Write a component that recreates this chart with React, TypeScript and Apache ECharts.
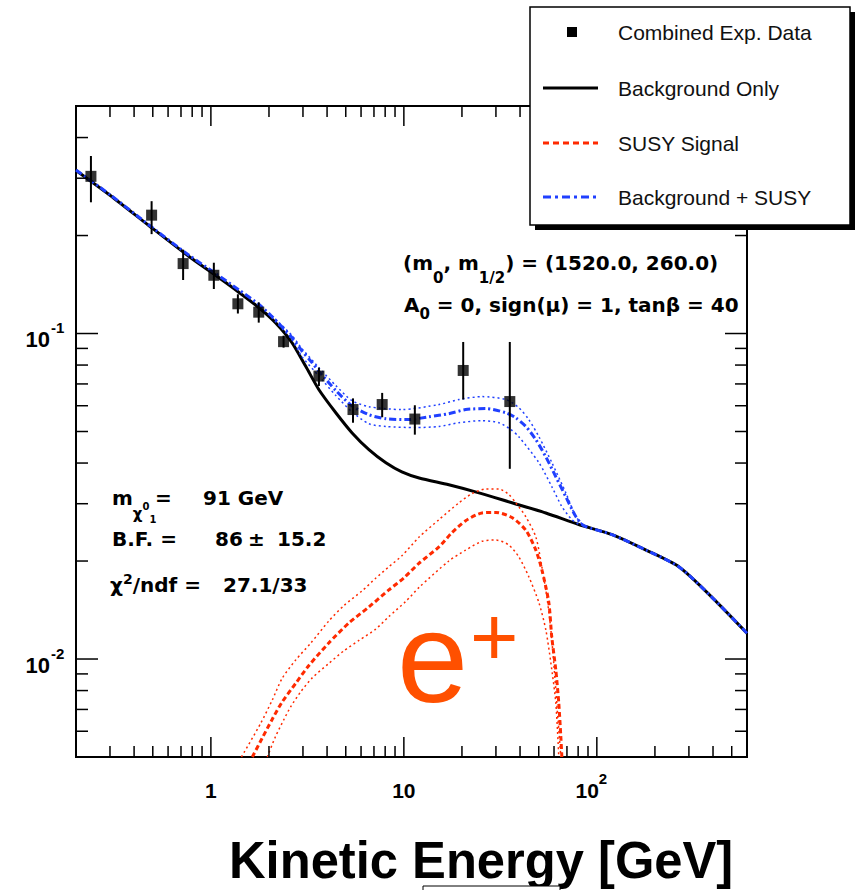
import React, { useEffect, useRef } from 'react';
import * as echarts from 'echarts';

// ---- Data ----
const dataE = [0.239, 0.493, 0.718, 1.036, 1.38, 1.77, 2.38, 3.63, 5.45, 7.72, 11.4, 20.3, 35.4];
const dataF = [0.304, 0.231, 0.164, 0.151, 0.1234, 0.1163, 0.0944, 0.074, 0.0584, 0.0605, 0.0546, 0.077, 0.0618];
const dataLo = [0.253, 0.202, 0.146, 0.137, 0.1152, 0.108, 0.0905, 0.069, 0.0532, 0.0553, 0.0489, 0.0627, 0.0384];
const dataHi = [0.351, 0.255, 0.181, 0.165, 0.132, 0.1246, 0.0985, 0.0786, 0.0632, 0.0657, 0.0602, 0.0942, 0.0942];

const bgE = [0.2, 0.3, 0.48, 0.77, 1.04, 1.4, 1.77, 2.16, 2.63, 3.1, 3.63, 4.44, 5.38, 6.59, 8.07, 9.76, 12.0, 17.1, 24.5, 36.3, 54.4, 80.6, 120, 180, 266, 394, 600];
const bgF = [0.317, 0.266, 0.214, 0.1725, 0.152, 0.1337, 0.1202, 0.108, 0.0938, 0.0793, 0.0672, 0.0571, 0.0496, 0.044, 0.0401, 0.0376, 0.036, 0.0343, 0.0324, 0.0302, 0.0281, 0.0259, 0.0241, 0.0216, 0.0192, 0.0155, 0.012];

const sumE = [0.2, 0.3, 0.48, 0.77, 1.04, 1.4, 1.77, 2.07, 2.63, 2.96, 3.34, 3.63, 4.44, 5.38, 6.59, 8.07, 10.6, 13.5, 17.1, 20.9, 26.6, 33.8, 38.0, 42.9, 48.3, 54.4, 61.3, 69.1, 77.8, 85.6, 120, 180, 266, 394, 600];
const sumF = [0.318, 0.267, 0.215, 0.174, 0.154, 0.136, 0.123, 0.1128, 0.0972, 0.0885, 0.0815, 0.0765, 0.0668, 0.06, 0.0563, 0.0547, 0.0544, 0.0555, 0.0567, 0.0584, 0.0588, 0.0571, 0.0551, 0.0518, 0.0472, 0.0418, 0.0363, 0.0315, 0.0274, 0.0257, 0.0241, 0.0216, 0.0192, 0.0155, 0.012];

const sumUpE = [2.07, 2.63, 2.96, 3.63, 4.44, 5.38, 6.59, 9.76, 15.2, 19.3, 25.4, 33.8, 39.4, 44.4, 50.1, 58.5, 69.1, 77.8, 85.6];
const sumUpF = [0.1135, 0.0986, 0.09, 0.0785, 0.0692, 0.0622, 0.0596, 0.0584, 0.0605, 0.0627, 0.064, 0.0627, 0.0592, 0.0544, 0.0482, 0.0401, 0.0324, 0.0274, 0.0257];
const sumLoE = [2.07, 2.63, 2.96, 3.63, 4.44, 5.38, 6.59, 8.07, 11.5, 15.2, 19.3, 25.4, 31.1, 35.8, 39.4, 50.1, 58.5, 65.9, 74.2, 80.7];
const sumLoF = [0.112, 0.0958, 0.085, 0.074, 0.0645, 0.0575, 0.0528, 0.0518, 0.0514, 0.0518, 0.0532, 0.054, 0.0532, 0.0507, 0.0482, 0.0401, 0.0338, 0.0294, 0.0268, 0.0259];

const susyE = [1.64, 1.84, 2.07, 2.33, 2.76, 3.22, 4.08, 5.19, 6.59, 8.36, 10.0, 12.0, 15.2, 17.7, 20.9, 25.4, 30.0, 36.3, 42.8, 48.3, 51.9, 56.4, 58.4, 61.3, 63.5, 65.1, 65.9];
const susyF = [0.005, 0.0057, 0.0065, 0.00735, 0.00844, 0.00955, 0.0112, 0.0129, 0.01445, 0.0163, 0.01775, 0.0197, 0.0221, 0.0244, 0.0266, 0.0281, 0.0282, 0.0272, 0.0249, 0.0216, 0.0188, 0.0149, 0.0117, 0.00925, 0.00732, 0.00575, 0.005];
const susyUpE = [1.44, 1.81, 2.08, 2.34, 2.75, 3.29, 4.09, 4.89, 6.08, 7.14, 8.36, 9.8, 12.0, 15.2, 19.3, 22.5, 26.6, 31.1, 35.0, 38.0, 42.8, 48.3, 51.9, 55.1, 57.8, 59.8, 62.0, 65.1];
const susyUpF = [0.005, 0.00634, 0.00748, 0.00872, 0.00993, 0.01118, 0.0131, 0.0146, 0.0162, 0.0177, 0.0192, 0.0208, 0.0237, 0.0268, 0.0302, 0.0322, 0.0333, 0.0333, 0.032, 0.0302, 0.0274, 0.0237, 0.0192, 0.0155, 0.0123, 0.00972, 0.00732, 0.005];
const susyLoE = [1.96, 2.16, 2.39, 2.59, 2.92, 3.35, 4.09, 4.89, 5.85, 7.14, 8.36, 10.2, 12.0, 17.1, 20.9, 25.4, 30.0, 35.0, 39.4, 44.4, 50.1, 54.4, 57.8, 61.3, 63.5];
const susyLoF = [0.005, 0.00577, 0.00652, 0.00713, 0.00793, 0.00875, 0.0097, 0.0106, 0.0114, 0.01235, 0.0135, 0.0150, 0.0166, 0.0200, 0.0216, 0.0230, 0.0232, 0.0224, 0.0206, 0.0179, 0.0149, 0.0123, 0.00972, 0.00732, 0.005];

const xMajorTicks = [1, 10, 100];
const xMinorTicks = [0.3, 0.4, 0.5, 0.6, 0.7, 0.8, 0.9, 2, 3, 4, 5, 6, 7, 8, 9, 20, 30, 40, 50, 60, 70, 80, 90, 200, 300, 400, 500];
const yMajorTicks = [0.01, 0.1];
const yMinorTicks = [0.006, 0.007, 0.008, 0.009, 0.02, 0.03, 0.04, 0.05, 0.06, 0.07, 0.08, 0.09, 0.2, 0.3, 0.4];

const xLabelValues = [1, 10, 100];
const xLabelBase = ['1', '10', '10'];
const xLabelSup = ['', '', '2'];
const yLabelValues = [0.1, 0.01];
const yLabelBase = ['10', '10'];
const yLabelSup = ['-1', '-2'];

const legendLabels = ['Combined Exp. Data', 'Background Only', 'SUSY Signal', 'Background + SUSY'];

const RED = '#ff2a00';
const BLUE = '#2040ff';
const ORANGE = '#ff5000';
const SANS = '"Liberation Sans", Arial, Helvetica, sans-serif';
const DJ = '"DejaVu Sans", sans-serif';

const pairs = (xs: number[], ys: number[]) => xs.map((x, i) => [x, ys[i]]);

const xTickRender = (len: number) => (params: any, api: any) => {
  const cs = params.coordSys;
  const p = api.coord([api.value(0), api.value(1)]);
  const x = p[0];
  const b = cs.y + cs.height;
  const st = { stroke: '#000', lineWidth: 1.5 };
  return {
    type: 'group',
    children: [
      { type: 'line', shape: { x1: x, y1: b, x2: x, y2: b - len }, style: st },
      { type: 'line', shape: { x1: x, y1: cs.y, x2: x, y2: cs.y + len }, style: st },
    ],
  };
};

const yTickRender = (len: number) => (params: any, api: any) => {
  const cs = params.coordSys;
  const p = api.coord([api.value(0), api.value(1)]);
  const y = p[1];
  const r = cs.x + cs.width;
  const st = { stroke: '#000', lineWidth: 1.5 };
  return {
    type: 'group',
    children: [
      { type: 'line', shape: { x1: cs.x, y1: y, x2: cs.x + len, y2: y }, style: st },
      { type: 'line', shape: { x1: r, y1: y, x2: r - len, y2: y }, style: st },
    ],
  };
};

const txt = (text: string, size: number, align: string, extra: any = {}) => ({
  text,
  fill: '#000',
  fontSize: size,
  fontWeight: 'bold',
  fontFamily: SANS,
  align,
  textAlign: align,
  verticalAlign: 'middle',
  textVerticalAlign: 'middle',
  ...extra,
});

export default function App() {
  const ref = useRef<HTMLDivElement>(null);

  useEffect(() => {
    document.body.style.margin = '0';
    if (!ref.current) return;
    const chart = echarts.init(ref.current, undefined, { renderer: 'svg' });

    const lineBase = { type: 'line', showSymbol: false, symbol: 'none', smooth: 0.25, silent: true };

    const richSub = {
      s: { fontSize: 15, fontWeight: 'bold', fontFamily: DJ, padding: [29, 0, 0, 0] },
      s2: { fontSize: 15, fontWeight: 'bold', fontFamily: DJ, padding: [17, 0, 0, 0] },
      c: { fontSize: 15, fontWeight: 'bold', fontFamily: DJ, padding: [32, 0, 0, 0] },
      t0: { fontSize: 10, fontWeight: 'bold', fontFamily: DJ, padding: [16, 0, 0, 0] },
      t1: { fontSize: 10, fontWeight: 'bold', fontFamily: DJ, padding: [42, 0, 0, 0] },
      p: { fontSize: 14, fontWeight: 'bold', fontFamily: DJ, padding: [0, 0, 12, 0] },
    };
    const annot = (x: number, y: number, text: string) => ({
      type: 'text',
      x,
      y,
      z: 50,
      style: {
        text,
        fill: '#000',
        fontSize: 20,
        fontWeight: 'bold',
        fontFamily: DJ,
        align: 'left',
        textAlign: 'left',
        verticalAlign: 'middle',
        textVerticalAlign: 'middle',
        rich: richSub,
      },
    });

    const legendY = [32, 88, 143, 197];
    const legendText = legendLabels.map((t, i) => ({
      type: 'text',
      x: 618,
      y: legendY[i],
      z: 102,
      style: {
        text: t,
        fill: '#111',
        fontSize: 21,
        fontFamily: SANS,
        align: 'left',
        textAlign: 'left',
        verticalAlign: 'middle',
        textVerticalAlign: 'middle',
      },
    }));

    const option: any = {
      animation: false,
      backgroundColor: '#fff',
      grid: {
        left: 76,
        top: 106,
        width: 671,
        height: 651,
        show: true,
        borderColor: '#000',
        borderWidth: 2,
        backgroundColor: 'transparent',
      },
      xAxis: {
        type: 'log',
        logBase: 10,
        min: 0.2,
        max: 600,
        axisLine: { show: false },
        axisTick: { show: false },
        axisLabel: { show: false },
        splitLine: { show: false },
      },
      yAxis: {
        type: 'log',
        logBase: 10,
        min: 0.005,
        max: 0.5,
        axisLine: { show: false },
        axisTick: { show: false },
        axisLabel: { show: false },
        splitLine: { show: false },
      },
      series: [
        { ...lineBase, name: 'Background Only', data: pairs(bgE, bgF), lineStyle: { color: '#000', width: 3 }, z: 2 },
        { ...lineBase, name: 'SUSY upper', data: pairs(susyUpE, susyUpF), lineStyle: { color: RED, width: 1.5, type: [2, 3] }, z: 3 },
        { ...lineBase, name: 'SUSY lower', data: pairs(susyLoE, susyLoF), lineStyle: { color: RED, width: 1.5, type: [2, 3] }, z: 3 },
        { ...lineBase, name: 'SUSY Signal', data: pairs(susyE, susyF), lineStyle: { color: RED, width: 3, type: [5, 3] }, z: 4 },
        { ...lineBase, name: 'Sum upper', data: pairs(sumUpE, sumUpF), lineStyle: { color: BLUE, width: 1.5, type: [2, 3] }, z: 3 },
        { ...lineBase, name: 'Sum lower', data: pairs(sumLoE, sumLoF), lineStyle: { color: BLUE, width: 1.5, type: [2, 3] }, z: 3 },
        { ...lineBase, name: 'Background + SUSY', data: pairs(sumE, sumF), lineStyle: { color: BLUE, width: 3, type: [7, 3, 2, 3] }, z: 4 },
        {
          type: 'custom',
          name: 'errors',
          silent: true,
          data: dataE.map((e, i) => [e, dataLo[i], dataHi[i]]),
          encode: { x: 0, y: [1, 2] },
          renderItem: (params: any, api: any) => {
            const a = api.coord([api.value(0), api.value(1)]);
            const b = api.coord([api.value(0), api.value(2)]);
            return {
              type: 'line',
              shape: { x1: a[0], y1: a[1], x2: b[0], y2: b[1] },
              style: { stroke: '#000', lineWidth: 2 },
            };
          },
          z: 9,
        },
        {
          type: 'scatter',
          name: 'Combined Exp. Data',
          data: pairs(dataE, dataF),
          symbol: 'rect',
          symbolSize: 11,
          itemStyle: { color: '#000' },
          silent: true,
          z: 10,
        },
        { type: 'custom', silent: true, data: xMajorTicks.map((v) => [v, 0.1]), renderItem: xTickRender(20), z: 11 },
        { type: 'custom', silent: true, data: xMinorTicks.map((v) => [v, 0.1]), renderItem: xTickRender(11), z: 11 },
        { type: 'custom', silent: true, data: yMajorTicks.map((v) => [1, v]), renderItem: yTickRender(22), z: 11 },
        { type: 'custom', silent: true, data: yMinorTicks.map((v) => [1, v]), renderItem: yTickRender(12), z: 11 },
        {
          type: 'custom',
          silent: true,
          data: xLabelValues.map((v) => [v, 0.1]),
          renderItem: (params: any, api: any) => {
            const i = params.dataIndex;
            const p = api.coord([api.value(0), api.value(1)]);
            const b = params.coordSys.y + params.coordSys.height;
            if (xLabelSup[i]) {
              return {
                type: 'group',
                children: [
                  { type: 'text', x: p[0] + 2, y: b + 33, style: txt(xLabelBase[i], 21, 'right') },
                  { type: 'text', x: p[0] + 2, y: b + 21, style: txt(xLabelSup[i], 15, 'left') },
                ],
              };
            }
            return { type: 'text', x: p[0], y: b + 33, style: txt(xLabelBase[i], 21, 'center') };
          },
          z: 11,
        },
        {
          type: 'custom',
          silent: true,
          data: yLabelValues.map((v) => [1, v]),
          renderItem: (params: any, api: any) => {
            const i = params.dataIndex;
            const p = api.coord([api.value(0), api.value(1)]);
            const x = params.coordSys.x - 26;
            return {
              type: 'group',
              children: [
                { type: 'text', x, y: p[1] + 6, style: txt(yLabelBase[i], 22, 'right') },
                { type: 'text', x: x + 1, y: p[1] - 6, style: txt(yLabelSup[i], 15, 'left') },
              ],
            };
          },
          z: 11,
        },
      ],
      graphic: [
        // annotations
        annot(403, 263, '(m{s|0}, m{s|1/2}) = (1520.0, 260.0)'),
        annot(404, 305, 'A{s2|0} = 0, sign(μ) = 1, tanβ = 40'),
        annot(112, 498, 'm{c|χ}{t0|0}{t1|1}'),
        annot(155, 498, '='),
        annot(203, 498, '91 GeV'),
        annot(112, 539, 'B.F. ='),
        annot(215, 539, '86'),
        annot(248, 539, '±'),
        annot(277, 539, '15.2'),
        annot(110, 585, 'χ{p|2}/ndf ='),
        annot(223, 585, '27.1/33'),
        // e+
        {
          type: 'text',
          x: 397,
          y: 657,
          z: 50,
          style: { text: 'e', fill: ORANGE, fontSize: 128, fontFamily: SANS, align: 'left', textAlign: 'left', verticalAlign: 'middle', textVerticalAlign: 'middle' },
        },
        {
          type: 'text',
          x: 470,
          y: 636,
          z: 50,
          style: { text: '+', fill: ORANGE, fontSize: 83, fontFamily: SANS, align: 'left', textAlign: 'left', verticalAlign: 'middle', textVerticalAlign: 'middle' },
        },
        // x axis title
        {
          type: 'text',
          x: 229,
          y: 860,
          scaleX: 0.975,
          z: 50,
          style: { text: 'Kinetic Energy [GeV]', fill: '#000', fontSize: 52, fontWeight: 'bold', fontFamily: SANS, align: 'left', textAlign: 'left', verticalAlign: 'middle', textVerticalAlign: 'middle' },
        },
        {
          type: 'rect',
          z: 51,
          shape: { x: 423, y: 886, width: 137, height: 10 },
          style: { fill: '#fff', stroke: '#000', lineWidth: 1 },
        },
        // legend
        { type: 'rect', z: 100, shape: { x: 535, y: 12, width: 320, height: 218 }, style: { fill: '#000' } },
        { type: 'rect', z: 101, shape: { x: 530, y: 7, width: 320, height: 218 }, style: { fill: '#fff', stroke: '#000', lineWidth: 1.5 } },
        { type: 'rect', z: 102, shape: { x: 567, y: 27, width: 10, height: 10 }, style: { fill: '#000' } },
        { type: 'line', z: 102, shape: { x1: 543, y1: 88, x2: 598, y2: 88 }, style: { stroke: '#000', lineWidth: 3 } },
        { type: 'line', z: 102, shape: { x1: 543, y1: 143, x2: 598, y2: 143 }, style: { stroke: RED, lineWidth: 3, lineDash: [6, 4] } },
        { type: 'line', z: 102, shape: { x1: 543, y1: 197, x2: 598, y2: 197 }, style: { stroke: BLUE, lineWidth: 3, lineDash: [8, 4, 3, 4] } },
        ...legendText,
      ],
    };

    chart.setOption(option);
    return () => chart.dispose();
  }, []);

  return <div ref={ref} style={{ width: 855, height: 890 }} />;
}
